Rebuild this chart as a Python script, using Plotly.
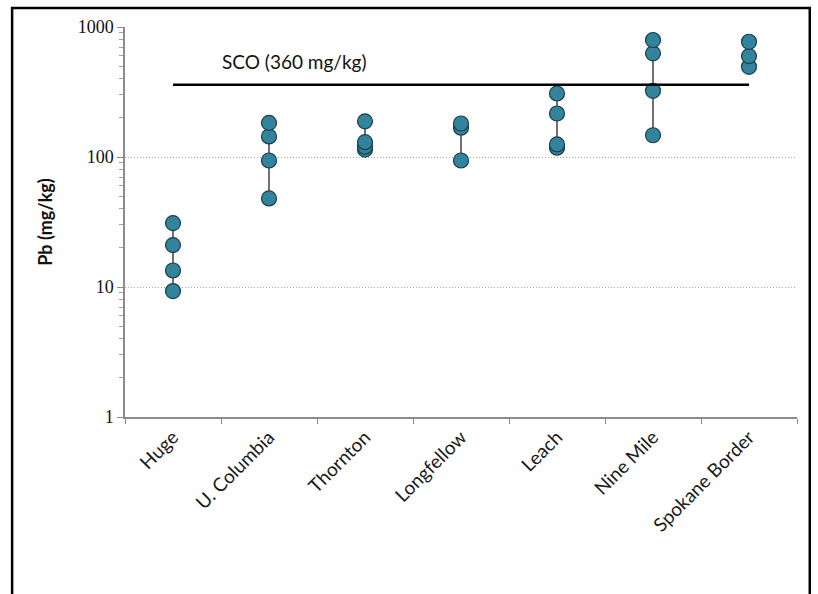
import math
import plotly.graph_objects as go

categories = ["Huge", "U. Columbia", "Thornton", "Longfellow", "Leach", "Nine Mile", "Spokane Border"]
pb_values = [
    [31, 21, 13.4, 9.3],
    [183, 144, 94, 48],
    [188, 130, 120, 114],
    [181, 168, 94],
    [308, 216, 125, 118],
    [794, 627, 323, 147],
    [770, 597, 494],
]
sco_value = 360
sco_label = "SCO (360 mg/kg)"
sco_label_y = 540
y_ticks = [1, 10, 100, 1000]

SANS = "Lato, Open Sans, Liberation Sans, sans-serif"
SERIF = "Liberation Serif, DejaVu Serif, serif"

fig = go.Figure()

for cat, vals in zip(categories, pb_values):
    vs = sorted(vals)
    fig.add_trace(go.Scatter(
        x=[cat] * len(vs), y=vs, mode="lines+markers",
        line=dict(color="#111111", width=1.2),
        marker=dict(size=15, color="#31849B", line=dict(color="#1E3E4A", width=1.2)),
        showlegend=False, hoverinfo="x+y",
    ))

# SCO line
fig.add_trace(go.Scatter(
    x=[categories[0], categories[-1]], y=[sco_value, sco_value], mode="lines",
    line=dict(color="black", width=2.5), showlegend=False, hoverinfo="skip",
))

fig.add_annotation(
    x=0.49, y=math.log10(sco_label_y), xref="x", yref="y", text=sco_label, showarrow=False,
    xanchor="left", yanchor="middle",
    font=dict(family=SANS, size=19, color="#111111"),
)

fig.update_layout(
    width=818, height=594,
    margin=dict(l=125, r=21, t=27, b=177),
    paper_bgcolor="white", plot_bgcolor="white",
    xaxis=dict(
        type="category", categoryorder="array", categoryarray=categories,
        range=[-0.5, len(categories) - 0.5],
        showline=True, linecolor="#8C8C8C", linewidth=1.5,
        ticks="outside", tickson="boundaries", ticklen=5, tickcolor="#8C8C8C",
        tickangle=-45, showgrid=False, zeroline=False,
        tickfont=dict(family=SANS, size=19, color="#1A1A1A"),
    ),
    yaxis=dict(
        type="log", range=[0, 3], tickvals=y_ticks, ticktext=[str(v) for v in y_ticks],
        showline=True, linecolor="#8C8C8C", linewidth=1.5,
        ticks="outside", ticklen=6, tickcolor="#8C8C8C",
        showgrid=True, gridcolor="#A6A6A6", griddash="1px,2px", gridwidth=1,
        zeroline=False,
        minor=dict(ticks="outside", ticklen=4, tickcolor="#A0A0A0", dtick="D1", showgrid=False),
        tickfont=dict(family=SERIF, size=18, color="#111111"),
        title=dict(text="<b>Pb (mg/kg)</b>", standoff=20,
                   font=dict(family=SANS, size=18, color="#111111")),
    ),
    shapes=[dict(
        type="rect", xref="paper", yref="paper",
        x0=-0.168, x1=1.019, y0=-0.6, y1=1.0487,
        line=dict(color="black", width=2.5), fillcolor="rgba(0,0,0,0)", layer="above",
    )],
)

fig.write_html("out.html", config={"displayModeBar": False},
               post_script="document.body.style.margin='0px';")
